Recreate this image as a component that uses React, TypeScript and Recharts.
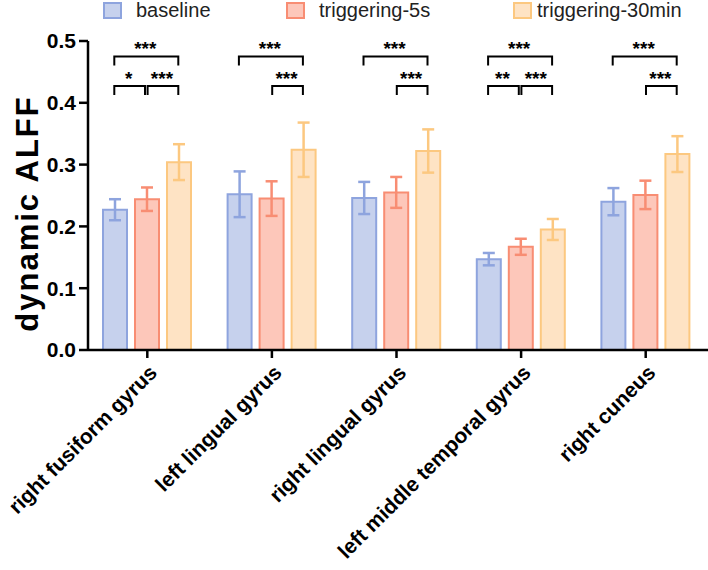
import React from 'react';
import { ComposedChart, Bar, XAxis, YAxis, ErrorBar, ReferenceDot } from 'recharts';

const categories = [
  'right fusiform gyrus',
  'left lingual gyrus',
  'right lingual gyrus',
  'left middle temporal gyrus',
  'right cuneus',
];
const seriesNames = ['baseline', 'triggering-5s', 'triggering-30min'];
const baselineMean = [0.227, 0.252, 0.246, 0.147, 0.240];
const baselineErr = [0.017, 0.037, 0.026, 0.010, 0.022];
const trig5sMean = [0.244, 0.245, 0.255, 0.167, 0.251];
const trig5sErr = [0.019, 0.028, 0.025, 0.013, 0.023];
const trig30Mean = [0.304, 0.324, 0.322, 0.195, 0.317];
const trig30Err = [0.029, 0.044, 0.035, 0.017, 0.029];
const yTicks = [0, 0.1, 0.2, 0.3, 0.4, 0.5];

// significance annotations (category, from group, to group, bracket level, label)
const sigCat = [0, 0, 0, 1, 1, 2, 2, 3, 3, 3, 4, 4];
const sigFrom = [0, 0, 1, 0, 1, 0, 1, 0, 0, 1, 0, 1];
const sigTo = [2, 1, 2, 2, 2, 2, 2, 2, 1, 2, 2, 2];
const sigLevel = [1, 0, 0, 1, 0, 1, 0, 1, 0, 0, 1, 0];
const sigLabel = ['***', '*', '***', '***', '***', '***', '***', '***', '**', '***', '***', '***'];
const bracketY = [0.427, 0.475];

const fills = ['#c6d1ed', '#fdc7ba', '#fee3c4'];
const strokes = ['#8ea4de', '#f88d73', '#fcc880'];
const FONT = '"Liberation Sans", Arial, Helvetica, sans-serif';
const BAR_SIZE = 24;
const BAR_GAP = 8;
const STEP = BAR_SIZE + BAR_GAP;
const LEG = 9;
const PAIR_GAP = 1.3;

const XTick = (props: any) => {
  const { x, y, payload } = props;
  return (
    <g transform={`translate(${x + 11},${y + 14}) rotate(-45)`}>
      <text x={0} y={0} textAnchor="end" fontSize={21} fontWeight="bold" fill="#000" fontFamily={FONT}>
        {payload.value}
      </text>
    </g>
  );
};

export default function App() {
  const data = categories.map((c, i) => ({
    name: c,
    b: baselineMean[i],
    bErr: baselineErr[i],
    t5: trig5sMean[i],
    t5Err: trig5sErr[i],
    t30: trig30Mean[i],
    t30Err: trig30Err[i],
  }));
  const keys = [
    ['b', 'bErr'],
    ['t5', 't5Err'],
    ['t30', 't30Err'],
  ];
  const legendLefts = [103, 286, 513];
  const legendGaps = [14, 14, 5];

  const sigElems = sigCat.map((c, k) => {
    const lower = sigLevel[k] === 0;
    const adjL = sigFrom[k] === 1 && lower ? PAIR_GAP : 0;
    const adjR = sigTo[k] === 1 && lower ? -PAIR_GAP : 0;
    return (
      <ReferenceDot
        key={`s${k}`}
        x={categories[c]}
        y={bracketY[sigLevel[k]]}
        r={0}
        ifOverflow="visible"
        shape={(p: any) => {
          const x1 = p.cx - 1 + (sigFrom[k] - 1) * STEP + adjL;
          const x2 = p.cx - 1 + (sigTo[k] - 1) * STEP + adjR;
          const y = p.cy;
          return (
            <g>
              <path d={`M${x1},${y + LEG}V${y}H${x2}V${y + LEG}`} stroke="#000" strokeWidth={2} fill="none" />
              <text x={(x1 + x2) / 2 - 1} y={y - 1} textAnchor="middle" fontSize={19} fontWeight="bold" fill="#000" fontFamily={FONT}>
                {sigLabel[k]}
              </text>
            </g>
          );
        }}
      />
    );
  });

  return (
    <div style={{ position: 'absolute', left: 0, top: 0, width: 708, height: 570, background: '#fff', fontFamily: FONT }}>
      {seriesNames.map((n, i) => (
        <div key={n} style={{ position: 'absolute', left: legendLefts[i], top: 0, display: 'flex', alignItems: 'center', height: 20 }}>
          <div style={{ width: 15, height: 13, background: fills[i], border: `2px solid ${strokes[i]}` }} />
          <span style={{ marginLeft: legendGaps[i], fontSize: 20, color: '#222', lineHeight: '20px' }}>{n}</span>
        </div>
      ))}
      <ComposedChart
        width={708}
        height={570}
        data={data}
        margin={{ top: 41, right: 0, bottom: 20, left: 0 }}
        barGap={BAR_GAP}
        style={{ fontFamily: FONT }}
      >
        <XAxis
          dataKey="name"
          height={200}
          padding={{ left: -3, right: 0 }}
          axisLine={{ stroke: '#000', strokeWidth: 2.5 }}
          tickLine={{ stroke: '#000', strokeWidth: 2.5 }}
          tickSize={8}
          interval={0}
          tick={<XTick />}
        />
        <YAxis
          width={88}
          domain={[0, 0.5]}
          ticks={yTicks}
          interval={0}
          allowDataOverflow
          tickFormatter={(v: number) => v.toFixed(1)}
          axisLine={{ stroke: '#000', strokeWidth: 2.5 }}
          tickLine={{ stroke: '#000', strokeWidth: 2.5 }}
          tickSize={9}
          tickMargin={3}
          tick={{ fontSize: 21, fontWeight: 'bold', fill: '#000', fontFamily: FONT }}
          label={{
            value: 'dynamic ALFF',
            angle: -90,
            position: 'center',
            dx: -17,
            dy: 18,
            style: { fontSize: 31, fontWeight: 'bold', fill: '#000', fontFamily: FONT, textAnchor: 'middle', letterSpacing: 2 },
          }}
        />
        {keys.map(([k, e], i) => (
          <Bar key={k} dataKey={k} name={seriesNames[i]} barSize={BAR_SIZE} fill={fills[i]} stroke={strokes[i]} strokeWidth={2} isAnimationActive={false}>
            <ErrorBar dataKey={e} width={6} stroke={strokes[i]} strokeWidth={2.5} direction="y" isAnimationActive={false} />
          </Bar>
        ))}
        {sigElems}
      </ComposedChart>
    </div>
  );
}
